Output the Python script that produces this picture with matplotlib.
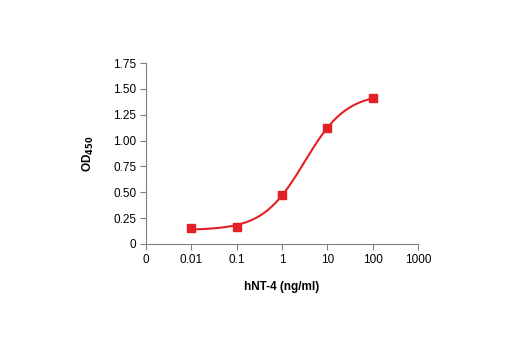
import numpy as np
import matplotlib
matplotlib.use("Agg")
import matplotlib.pyplot as plt
from matplotlib import font_manager

conc = [0.01, 0.1, 1, 10, 100]
od450 = [0.155, 0.165, 0.475, 1.12, 1.41]
xtick_vals = [0.001, 0.01, 0.1, 1, 10, 100, 1000]
xtick_labels = ["0", "0.01", "0.1", "1", "10", "100", "1000"]
ytick_vals = [0, 0.25, 0.5, 0.75, 1.0, 1.25, 1.5, 1.75]
ytick_labels = ["0", "0.25", "0.50", "0.75", "1.00", "1.25", "1.50", "1.75"]

names = {f.name for f in font_manager.fontManager.ttflist}
fam = ["Liberation Sans Narrow", "Liberation Sans", "DejaVu Sans"]
fam = [f for f in fam if f in names] or ["DejaVu Sans"]
plt.rcParams["font.family"] = fam

red = "#e41f26"
gray = "#808080"

# 4-parameter logistic fit to the data (grid over slope / midpoint, linear solve for asymptotes)
X = np.asarray(conc, float); Y = np.asarray(od450, float)
best = None
for b in np.linspace(0.3, 3.0, 271):
    for lc in np.linspace(-1.0, 2.0, 301):
        g = 1.0 / (1.0 + (X / 10**lc) ** b)
        A = np.column_stack([g, 1 - g])
        coef, *_ = np.linalg.lstsq(A, Y, rcond=None)
        err = np.sum((A @ coef - Y) ** 2)
        if best is None or err < best[0]:
            best = (err, b, lc, coef)
_, b, lc, (a, d) = best
xs = np.logspace(np.log10(X[0]), np.log10(X[-1]), 300)
gs = 1.0 / (1.0 + (xs / 10**lc) ** b)
ys = a * gs + d * (1 - gs)

fig = plt.figure(figsize=(5.2, 3.5), dpi=100)
ax = fig.add_axes([146/520, 1 - 244/350, 272/520, 181/350])

ax.plot(xs, ys, color=red, lw=1.5, zorder=2)
ax.plot(conc, od450, "s", color=red, ms=6, zorder=3)

ax.set_xscale("log")
ax.set_xlim(0.001, 1000)
ax.set_ylim(0, 1.75)
ax.set_xticks(xtick_vals)
ax.set_xticklabels(xtick_labels)
ax.xaxis.set_minor_locator(matplotlib.ticker.NullLocator())
ax.set_yticks(ytick_vals)
ax.set_yticklabels(ytick_labels)

for s in ["top", "right"]:
    ax.spines[s].set_visible(False)
for s in ["left", "bottom"]:
    ax.spines[s].set_color(gray)
    ax.spines[s].set_linewidth(0.8)
ax.tick_params(axis="both", colors=gray, labelcolor="black", length=4,
               width=0.8, labelsize=8.5, direction="out", pad=3)

ax.set_xlabel("hNT-4 (ng/ml)", fontsize=8.5, fontweight="bold", labelpad=11)
ax.set_ylabel(r"OD$_{\mathbf{450}}$", fontsize=8.5, fontweight="bold", labelpad=12)

fig.savefig("out.png", dpi=100)
